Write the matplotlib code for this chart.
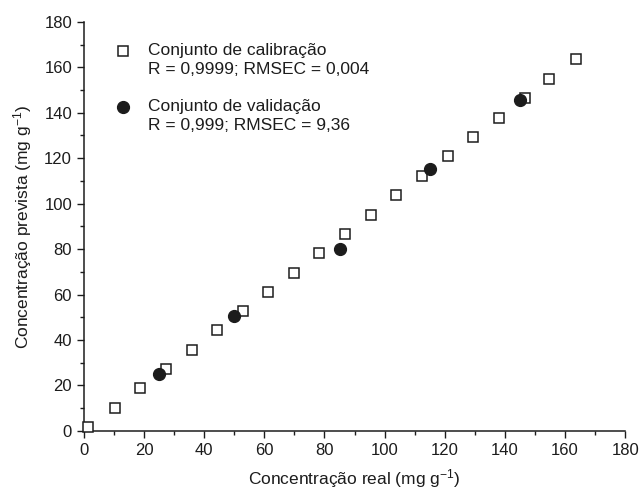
import matplotlib.pyplot as plt
import numpy as np

plt.rcParams['font.family'] = ['Liberation Sans', 'DejaVu Sans']
plt.rcParams['mathtext.default'] = 'regular'

# Calibration set
cal_real = [1.5, 10.2, 18.7, 27.2, 35.9, 44.2, 52.9, 61.2, 69.8, 78.2,
            86.8, 95.4, 103.8, 112.4, 121.0, 129.4, 138.0, 146.5, 154.8, 163.5]
cal_prev = [1.6, 10.1, 18.9, 27.1, 35.7, 44.3, 52.7, 61.2, 69.6, 78.3,
            86.7, 95.2, 103.9, 112.2, 121.0, 129.4, 137.9, 146.4, 154.9, 163.6]

# Validation set
val_real = [25.0, 50.0, 85.0, 115.0, 145.0]
val_prev = [25.0, 50.6, 80.1, 115.4, 145.5]

xticks = np.arange(0, 181, 20)
yticks = np.arange(0, 181, 20)

ink = "#1c1c1c"

fig = plt.figure(figsize=(6.4, 4.97), dpi=100)
ax = fig.add_axes([0.131, 0.133, 0.846, 0.823])

ax.plot(cal_real, cal_prev, ls="none", marker="s", ms=7, mfc="white",
        mec=ink, mew=1.1, clip_on=False, zorder=3)
ax.plot(val_real, val_prev, ls="none", marker="o", ms=8.5, mfc=ink,
        mec=ink, clip_on=False, zorder=4)

ax.set_xlim(0, 180)
ax.set_ylim(0, 180)
ax.set_xticks(xticks)
ax.set_yticks(yticks)
ax.set_xticks(np.arange(10, 180, 20), minor=True)
ax.set_yticks(np.arange(10, 180, 20), minor=True)
ax.tick_params(which="major", direction="out", length=5, width=1, colors=ink,
               labelsize=12, labelcolor=ink)
ax.tick_params(which="minor", direction="out", length=3, width=1, colors=ink)

for s in ["top", "right"]:
    ax.spines[s].set_visible(False)
for s in ["left", "bottom"]:
    ax.spines[s].set_color(ink)
    ax.spines[s].set_linewidth(1.1)

ax.set_xlabel("Concentração real (mg g$^{-1}$)", fontsize=12.5, color=ink, labelpad=7)
ax.set_ylabel("Concentração prevista (mg g$^{-1}$)", fontsize=12.5, color=ink, labelpad=7)

# Legend drawn by hand so the marker sits on the first text line
ax.plot([0.072], [0.93], transform=ax.transAxes, marker="s", ms=7, mfc="white",
        mec=ink, mew=1.1, clip_on=False)
ax.text(0.118, 0.93, "Conjunto de calibração", transform=ax.transAxes,
        fontsize=12.5, color=ink, va="center")
ax.text(0.118, 0.884, "R = 0,9999; RMSEC = 0,004", transform=ax.transAxes,
        fontsize=12.5, color=ink, va="center")
ax.plot([0.072], [0.793], transform=ax.transAxes, marker="o", ms=8.5, mfc=ink,
        mec=ink, clip_on=False)
ax.text(0.118, 0.793, "Conjunto de validação", transform=ax.transAxes,
        fontsize=12.5, color=ink, va="center")
ax.text(0.118, 0.747, "R = 0,999; RMSEC = 9,36", transform=ax.transAxes,
        fontsize=12.5, color=ink, va="center")

fig.savefig("out.png", dpi=100)
